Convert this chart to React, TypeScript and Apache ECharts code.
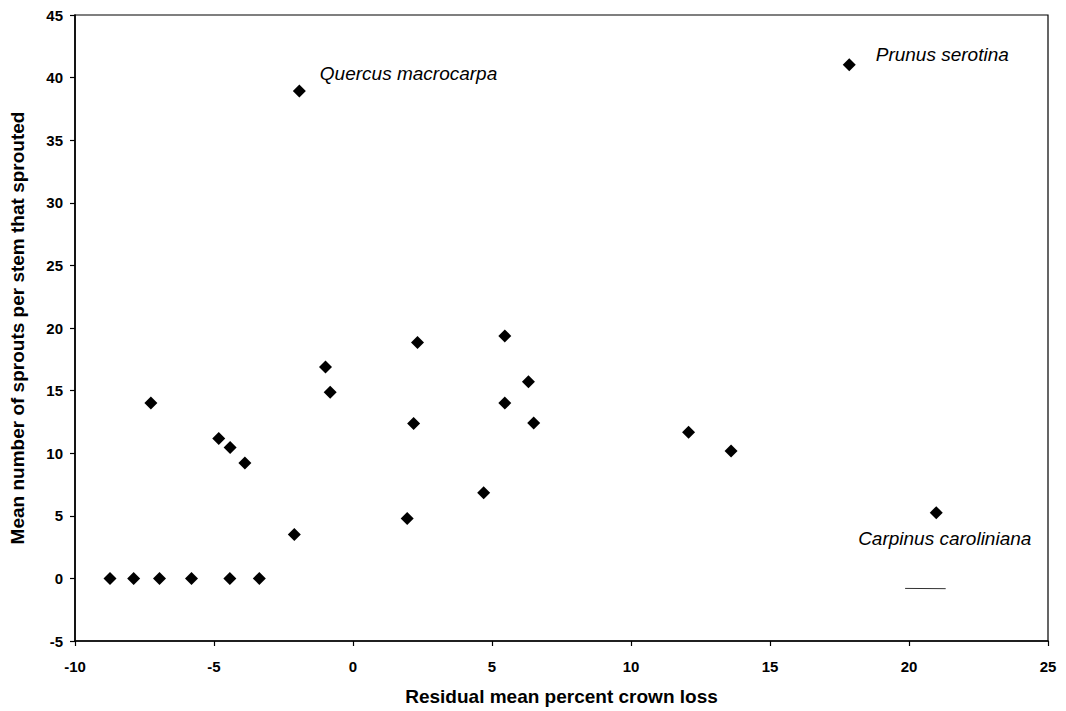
import React, { useEffect, useRef } from "react";
import * as echarts from "echarts";

const crownLoss: number[] = [
  -8.74, -7.89, -6.96, -5.81, -4.43, -3.37,
  -7.27, -4.83, -4.42, -3.89, -2.11, -0.82, -0.99,
  2.32, 5.46, 6.31, 5.46, 2.18, 6.5, 12.07, 13.6, 4.7, 1.95,
];
const sprouts: number[] = [
  0, 0, 0, 0, 0, 0,
  14.0, 11.17, 10.45, 9.21, 3.5, 14.86, 16.88,
  18.84, 19.37, 15.71, 14.0, 12.37, 12.42, 11.68, 10.17, 6.85, 4.78,
];

const namedSpecies: string[] = ["Quercus macrocarpa", "Prunus serotina", "Carpinus caroliniana"];
const namedX: number[] = [-1.93, 17.85, 20.98];
const namedY: number[] = [38.93, 41.03, 5.25];

const xTicks = { min: -10, max: 25, interval: 5 };
const yTicks = { min: -5, max: 45, interval: 5 };

const strayMarkX: number[] = [19.86, 21.32];
const strayMarkY: number[] = [-0.8, -0.82];

export default function App() {
  const ref = useRef<HTMLDivElement>(null);
  useEffect(() => {
    document.body.style.margin = "0";
    if (!ref.current) return;
    const chart = echarts.init(ref.current, undefined, { renderer: "svg" });
    const font = "'Liberation Sans', Arial, sans-serif";
    const labelCfg = [
      { position: [27, -11], align: "left" },
      { position: [33, -4], align: "left" },
      { position: [15, 32], align: "center" },
    ];
    chart.setOption({
      animation: false,
      backgroundColor: "#ffffff",
      grid: {
        left: 67,
        right: 18,
        top: 15,
        bottom: 68,
        show: true,
        borderColor: "#000",
        borderWidth: 1.2,
        containLabel: false,
      },
      xAxis: {
        type: "value",
        min: xTicks.min,
        max: xTicks.max,
        interval: xTicks.interval,
        name: "Residual mean percent crown loss",
        nameLocation: "middle",
        nameGap: 46,
        nameTextStyle: { fontFamily: font, fontWeight: "bold", fontSize: 19, color: "#000" },
        axisLine: { show: true, onZero: false, lineStyle: { color: "#000", width: 1.6 } },
        axisTick: { show: true, inside: false, length: 5, lineStyle: { color: "#000", width: 1.2 } },
        axisLabel: { margin: 18, fontFamily: font, fontWeight: "bold", fontSize: 15, color: "#000" },
        splitLine: { show: false },
      },
      yAxis: {
        type: "value",
        min: yTicks.min,
        max: yTicks.max,
        interval: yTicks.interval,
        name: "Mean number of sprouts per stem that sprouted",
        nameLocation: "middle",
        nameGap: 48,
        nameTextStyle: { fontFamily: font, fontWeight: "bold", fontSize: 19, color: "#000" },
        axisLine: { show: true, onZero: false, lineStyle: { color: "#000", width: 1.6 } },
        axisTick: { show: true, inside: false, length: 5, lineStyle: { color: "#000", width: 1.2 } },
        axisLabel: { margin: 12, fontFamily: font, fontWeight: "bold", fontSize: 15, color: "#000" },
        splitLine: { show: false },
      },
      series: [
        {
          type: "scatter",
          symbol: "diamond",
          symbolSize: 13,
          itemStyle: { color: "#000", opacity: 1 },
          data: crownLoss.map((x, i) => [x, sprouts[i]]),
        },
        {
          type: "scatter",
          symbol: "diamond",
          symbolSize: 13,
          itemStyle: { color: "#000", opacity: 1 },
          data: namedX.map((x, i) => ({
            value: [x, namedY[i]],
            label: {
              show: true,
              formatter: namedSpecies[i],
              position: labelCfg[i].position,
              align: labelCfg[i].align,
              verticalAlign: "middle",
              fontFamily: font,
              fontStyle: "italic",
              fontSize: 19,
              color: "#000",
              opacity: 1,
            },
          })),
        },
        {
          type: "line",
          symbol: "none",
          silent: true,
          lineStyle: { color: "#333", width: 1 },
          data: strayMarkX.map((x, i) => [x, strayMarkY[i]]),
        },
      ],
    });
    return () => chart.dispose();
  }, []);
  return <div ref={ref} style={{ width: 1066, height: 711 }} />;
}
